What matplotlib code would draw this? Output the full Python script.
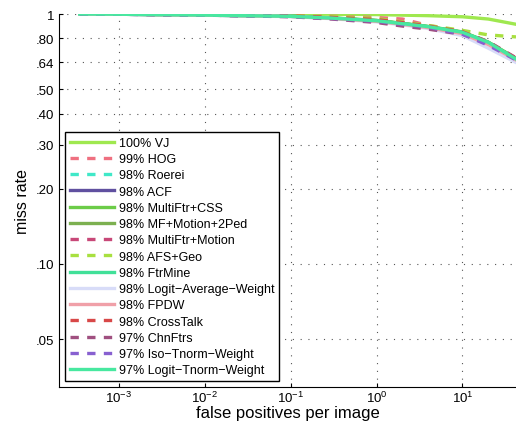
import matplotlib
matplotlib.use("Agg")
import matplotlib.pyplot as plt

plt.rcParams["font.family"] = ["Liberation Sans", "DejaVu Sans"]

# false positives per image, shared sample points for all curves
fppi = [3.5e-4, 1e-3, 1e-2, 1e-1, 0.3, 1, 2, 4, 10, 20, 42]

names = ["100% VJ", "99% HOG", "98% Roerei", "98% ACF", "98% MultiFtr+CSS",
         "98% MF+Motion+2Ped", "98% MultiFtr+Motion", "98% AFS+Geo",
         "98% FtrMine", "98% Logit\u2212Average\u2212Weight", "98% FPDW",
         "98% CrossTalk", "97% ChnFtrs", "97% Iso\u2212Tnorm\u2212Weight",
         "97% Logit\u2212Tnorm\u2212Weight"]

miss = {
    "VJ":       [1.0, 1.0, 1.0, 1.0, 0.998, 0.995, 0.99, 0.985, 0.975, 0.955, 0.91],
    "HOG":      [1.0, 1.0, 0.998, 0.99, 0.98, 0.968, 0.955, 0.90, 0.85, 0.772, 0.662],
    "Roerei":   [1.0, 0.999, 0.992, 0.982, 0.966, 0.945, 0.92, 0.895, 0.85, 0.775, 0.665],
    "ACF":      [1.0, 0.998, 0.99, 0.979, 0.962, 0.94, 0.913, 0.888, 0.84, 0.765, 0.66],
    "MFCSS":    [1.0, 0.999, 0.992, 0.981, 0.965, 0.943, 0.918, 0.892, 0.848, 0.772, 0.665],
    "MFM2P":    [1.0, 0.999, 0.991, 0.98, 0.964, 0.942, 0.916, 0.89, 0.845, 0.77, 0.663],
    "MFMotion": [1.0, 0.999, 0.993, 0.982, 0.967, 0.946, 0.92, 0.893, 0.85, 0.775, 0.668],
    "AFSGeo":   [1.0, 1.0, 0.998, 0.99, 0.98, 0.96, 0.93, 0.90, 0.86, 0.825, 0.81],
    "FtrMine":  [1.0, 0.998, 0.99, 0.979, 0.963, 0.94, 0.915, 0.89, 0.845, 0.77, 0.66],
    "LogitAvg": [1.0, 0.998, 0.99, 0.976, 0.958, 0.93, 0.905, 0.875, 0.82, 0.73, 0.64],
    "FPDW":     [1.0, 0.998, 0.99, 0.978, 0.96, 0.935, 0.91, 0.882, 0.835, 0.755, 0.655],
    "CrossTalk":[1.0, 0.999, 0.993, 0.983, 0.97, 0.95, 0.925, 0.895, 0.85, 0.77, 0.66],
    "ChnFtrs":  [1.0, 0.998, 0.99, 0.975, 0.955, 0.925, 0.895, 0.87, 0.83, 0.76, 0.66],
    "IsoTnorm": [1.0, 0.998, 0.99, 0.978, 0.96, 0.935, 0.91, 0.885, 0.83, 0.75, 0.655],
    "LogitTnorm":[1.0, 0.998, 0.99, 0.979, 0.963, 0.94, 0.915, 0.89, 0.845, 0.77, 0.66],
}

colors = ["#9fe84f", "#ef7080", "#40e8c8", "#6050a0", "#6ccc48",
          "#7cb050", "#c84878", "#a8e040", "#40e098", "#d8dcf8",
          "#f0a0a8", "#d84848", "#a05080", "#8860d0", "#48e8a0"]
dashed = [False, True, True, False, False, False, True, True,
          False, False, False, True, True, True, False]

fig = plt.figure(figsize=(5.16, 4.27), dpi=100)
ax = fig.add_axes([0.114, 0.0913, 0.886, 0.8735])

for name, key, c, d in zip(names, miss, colors, dashed):
    ls = (0, (2.5, 2.5)) if d else "-"
    ax.plot(fppi, miss[key], color=c, lw=2.4, linestyle=ls, label=name)

ax.set_xscale("log")
ax.set_yscale("log")
ax.set_xlim(2e-4, 42)
ax.set_ylim(0.0322, 1)

yticks = [0.05, 0.10, 0.20, 0.30, 0.40, 0.50, 0.64, 0.80, 1]
ytick_labels = [".05", ".10", ".20", ".30", ".40", ".50", ".64", ".80", "1"]
ax.set_yticks(yticks)
ax.set_yticklabels(ytick_labels)
ax.minorticks_off()
ax.set_xticks([1e-3, 1e-2, 1e-1, 1, 10])

ax.grid(True, linestyle=(0, (1, 6)), color="#555555", lw=0.8)
ax.spines["top"].set_visible(False)
ax.spines["right"].set_visible(False)
ax.tick_params(direction="in", labelsize=9.5, length=3)
ax.tick_params(axis="x", pad=2)

ax.set_xlabel("false positives per image", fontsize=12, labelpad=0)
ax.set_ylabel("miss rate", fontsize=11.5)

leg = ax.legend(loc="upper left", bbox_to_anchor=(0.013, 0.684), borderaxespad=0,
                fontsize=9, handlelength=3.5, handletextpad=0.4,
                labelspacing=0.34, fancybox=False, framealpha=1)
leg.get_frame().set_edgecolor("black")
leg.get_frame().set_linewidth(1.0)

plt.savefig("out.png", dpi=100)
